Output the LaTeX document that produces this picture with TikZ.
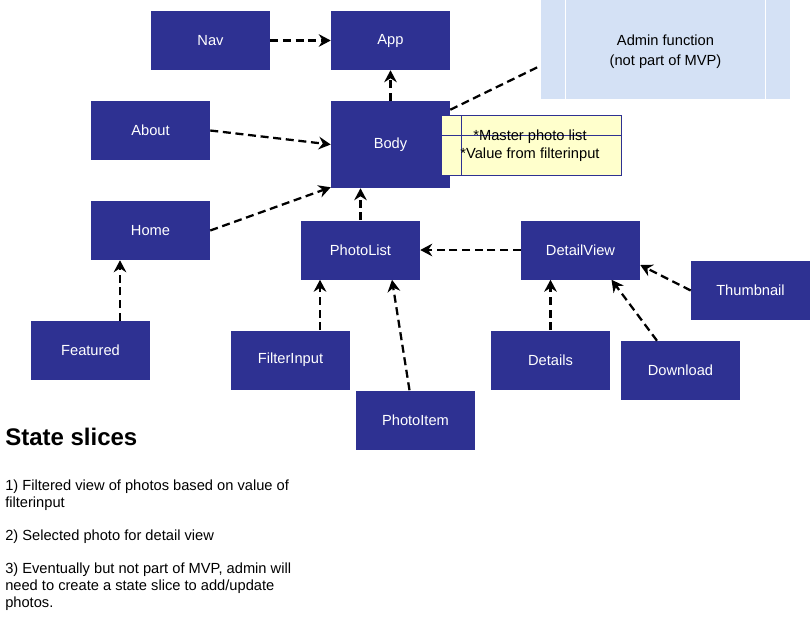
\documentclass[tikz,border=0pt]{standalone}
\usepackage{fontspec}
\setmainfont{Liberation Sans}
\usetikzlibrary{arrows.meta,calc}
\definecolor{navy}{RGB}{46,49,146}
\definecolor{adminblue}{RGB}{212,225,245}
\definecolor{noteyellow}{RGB}{255,255,204}
\begin{document}
\begin{tikzpicture}[x=0.75pt,y=-0.75pt,
  comp/.style={fill=navy,draw=none,text=white,font=\fontsize{11}{13}\selectfont,
    minimum width=89.25pt,minimum height=44.25pt,inner sep=0pt},
  dep/.style={line width=1.7pt,dash pattern=on 6pt off 3.5pt,
    -{Stealth[length=9pt,width=9.5pt,inset=3pt]}},
  link/.style={line width=1.7pt,dash pattern=on 6pt off 3.5pt},
  para/.style={anchor=base west,align=left,inner sep=0pt,
    font=\fontsize{11}{12.75}\selectfont}]
\useasboundingbox (0,0) rectangle (811,632);
% admin box
\fill[adminblue] (541,0) rectangle (790,99);
\draw[white,line width=0.75pt] (565,0) -- (565,99) (765,0) -- (765,99);
\node[align=center,font=\fontsize{11}{15}\selectfont,inner sep=0pt] (admin) at (665.5,51.5) {Admin function\\(not part of MVP)};
\coordinate (adminw) at (541,65.5);
% components
\node[comp] (nav) at (210.5,40.5) {Nav};
\node[comp] (app) at (390.5,40.5) {App};
\node[comp,minimum height=65.25pt] (body) at (390.5,144.5) {Body};
\node[comp] (about) at (150.5,130.5) {About};
\node[comp] (home) at (150.5,230.5) {Home};
\node[comp] (photolist) at (360.5,250) {PhotoList};
\node[comp] (detailview) at (580.5,250) {DetailView};
\node[comp] (thumb) at (750.5,290.5) {Thumbnail};
\node[comp] (featured) at (90.5,350.5) {Featured};
\node[comp] (filterinput) at (290.5,360) {FilterInput};
\node[comp] (details) at (550.5,360) {Details};
\node[comp] (download) at (680.5,370.5) {Download};
\node[comp] (photoitem) at (415.5,420) {PhotoItem};
% note
\fill[noteyellow] (441,115) rectangle (621,175);
\draw[navy,line width=0.75pt] (441,115) rectangle (621,175) (441,135) -- (621,135) (461,115) -- (461,175);
\node[anchor=base,inner sep=0pt,font=\fontsize{11}{13}\selectfont] (note1) at (530,140) {*Master photo list};
\node[anchor=base,inner sep=0pt,font=\fontsize{11}{13}\selectfont] (note2) at (530,158.5) {*Value from filterinput};
% connectors
\draw[dep] (nav.east) -- (app.west);
\draw[dep] (body.north) -- (app.south);
\draw[dep] (about.east) -- (body.west);
\draw[dep] (home.east) -- ($(body.south west)+(0,-1)$);
\draw[dep] (photolist.north) -- ($(body.south)+(-30,0)$);
\draw[link] ($(body.north east)+(0,9)$) -- (adminw);
\draw[dep] (detailview.west) -- (photolist.east);
\draw[dep] ($(featured.north)+(29.5,0)$) -- ($(home.south)+(-30.5,0)$);
\draw[dep] ($(filterinput.north)+(29.5,0)$) -- ($(photolist.south)+(-40.5,0)$);
\draw[dep] ($(photoitem.north)+(-6,0)$) -- ($(photolist.south)+(31.5,0)$);
\draw[dep] (details.north) -- ($(detailview.south)+(-30,0)$);
\draw[dep] ($(download.north)+(-23.5,0)$) -- ($(detailview.south)+(31,0)$);
\draw[dep] (thumb.west) -- ($(detailview.east)+(0,15)$);
% state slices
\node[anchor=base west,inner sep=0pt,font=\fontsize{18}{20}\selectfont\bfseries] (title) at (5,445) {State slices};
\node[para] (s1) at (5,507.5) {1) Filtered view of photos based on value of\\filterinput};
\node[para] (s2) at (5,540) {2) Selected photo for detail view};
\node[para] (s3) at (5,607.5) {3) Eventually but not part of MVP, admin will\\need to create a state slice to add/update\\photos.};
\end{tikzpicture}
\end{document}
